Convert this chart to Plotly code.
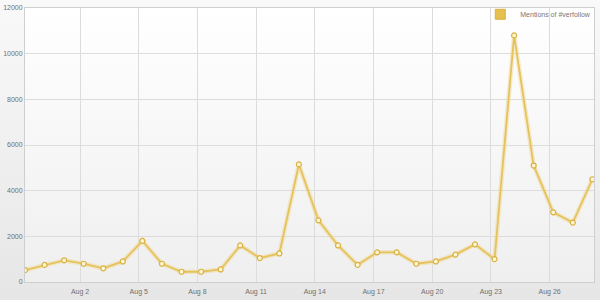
import base64
import plotly.graph_objects as go
import pandas as pd

dates = pd.date_range("2011-07-30 04:30", periods=30, freq="D")
mentions = [520, 750, 950, 800, 600, 900, 1800, 800, 450, 450,
            550, 1600, 1050, 1250, 5150, 2700, 1600, 750, 1300, 1300,
            800, 900, 1200, 1650, 1000, 10800, 5100, 3050, 2600, 4500]
series_name = "Mentions of #verfollow"

gold = "#e6c25e"

W, H = 600, 300
ML, MR, MT, MB = 25, 6, 8, 18
PW, PH = W - ML - MR, H - MT - MB


def grad(top, bottom):
    svg = ('<svg xmlns="http://www.w3.org/2000/svg" width="100" height="100" preserveAspectRatio="none">'
           '<defs><linearGradient id="g" x1="0" y1="0" x2="0" y2="1">'
           f'<stop offset="0" stop-color="{top}"/><stop offset="1" stop-color="{bottom}"/>'
           '</linearGradient></defs><rect width="100" height="100" fill="url(#g)"/></svg>')
    return "data:image/svg+xml;base64," + base64.b64encode(svg.encode()).decode()


fig = go.Figure()
fig.add_trace(go.Scatter(x=dates, y=mentions, mode="lines",
                         line=dict(color="rgba(240,218,150,0.5)", width=4.5),
                         hoverinfo="skip", showlegend=False))
fig.add_trace(go.Scatter(x=dates, y=mentions, mode="lines+markers",
                         line=dict(color=gold, width=1.8),
                         marker=dict(size=5, color="#fff6d6",
                                     line=dict(color="#d8b141", width=1.2)),
                         showlegend=False, name=series_name))
fig.add_trace(go.Scatter(x=[None], y=[None], mode="markers", name=series_name,
                         marker=dict(symbol="square", size=10, color="#e6c04f",
                                     line=dict(color="#d8b141", width=1))))

fig.update_layout(
    width=W, height=H,
    margin=dict(l=ML, r=MR, t=MT, b=MB, autoexpand=False),
    paper_bgcolor="#eeeeee",
    plot_bgcolor="rgba(0,0,0,0)",
    font=dict(family="Liberation Sans, Arial, sans-serif", size=7, color="#707070"),
    legend=dict(x=1.004, xanchor="right", y=1.03, yanchor="top",
                bgcolor="rgba(0,0,0,0)", font=dict(size=7, color="#777"),
                itemwidth=30, tracegroupgap=0),
    showlegend=True,
    images=[
        dict(source=grad("#f9f9f9", "#e6e6e6"), xref="paper", yref="paper",
             x=-ML / PW, y=1 + MT / PH, sizex=W / PW, sizey=H / PH,
             xanchor="left", yanchor="top", sizing="stretch", layer="below"),
        dict(source=grad("#ffffff", "#efefef"), xref="paper", yref="paper",
             x=0, y=1, sizex=1, sizey=1,
             xanchor="left", yanchor="top", sizing="stretch", layer="below"),
    ],
)
fig.update_xaxes(
    type="date",
    range=[dates[0], dates[-1] + pd.Timedelta(hours=2)],
    tick0="2011-08-02", dtick=3 * 86400000,
    tickformat="%b %-d",
    showgrid=True, gridcolor="#dcdcdc", gridwidth=1,
    showline=True, linecolor="#cfcfcf", mirror=True,
    ticks="", ticklabelstandoff=3,
    zeroline=False,
)
fig.update_yaxes(
    range=[0, 12000], dtick=2000, tickformat="d",
    showgrid=True, gridcolor="#dcdcdc", gridwidth=1,
    showline=True, linecolor="#cfcfcf", mirror=True,
    ticks="", zeroline=False,
)

fig.write_html("out.html")
